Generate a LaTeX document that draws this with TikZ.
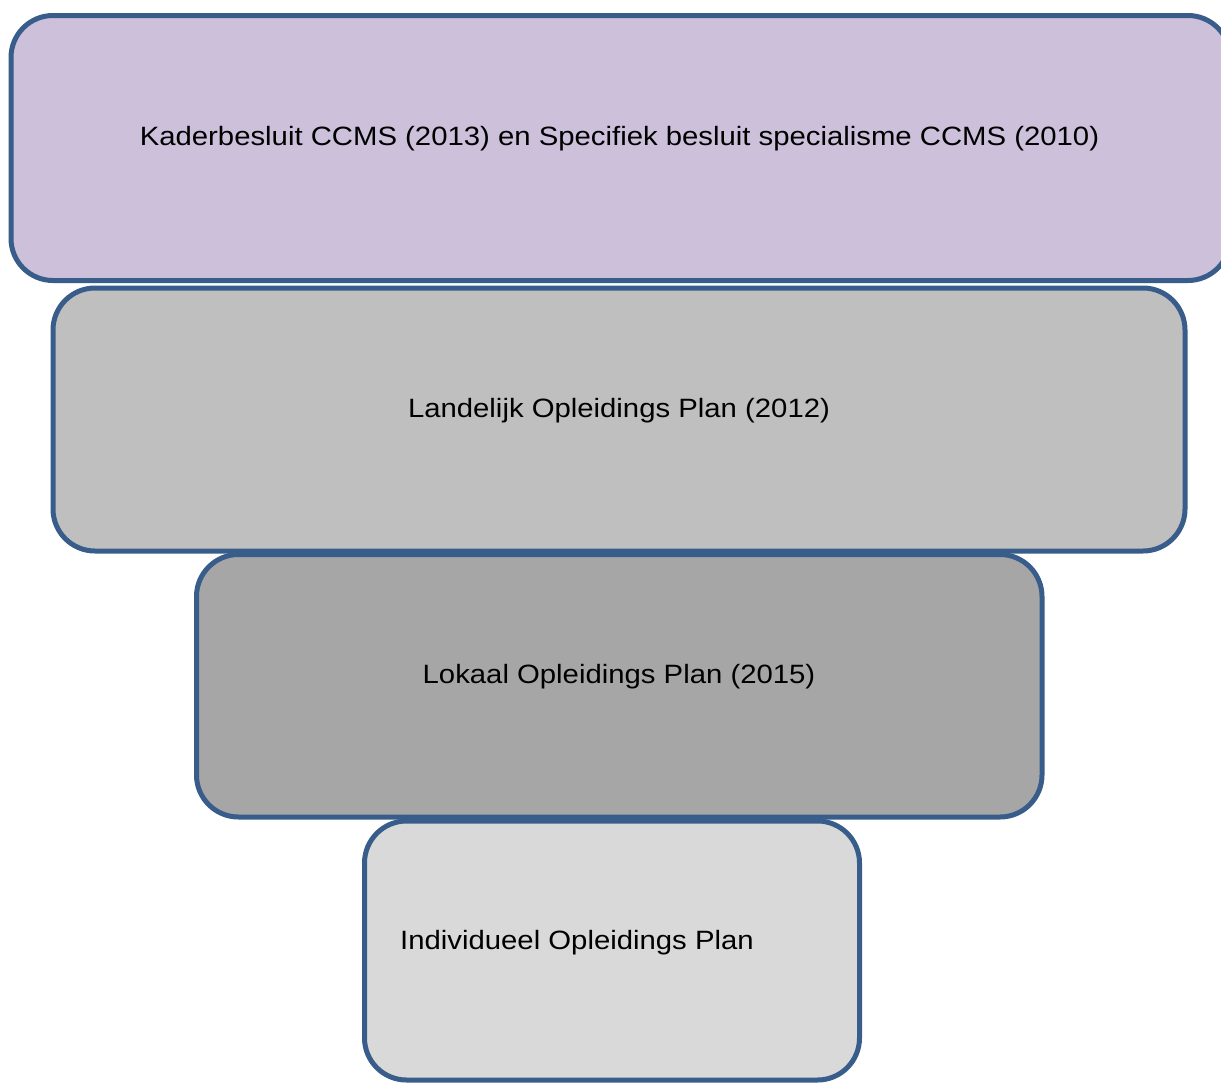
\documentclass[tikz,border=0pt]{standalone}
\usepackage{fontspec}
\setmainfont{Liberation Sans}
\newfontfamily\widesans[FakeStretch=1.106]{Liberation Sans}
\definecolor{edgeblue}{RGB}{56,93,138}
\definecolor{lavender}{RGB}{204,192,218}
\definecolor{greyA}{RGB}{191,191,191}
\definecolor{greyB}{RGB}{166,166,166}
\definecolor{greyC}{RGB}{217,217,217}
\begin{document}
\begin{tikzpicture}[x=1pt,y=-1pt,
  tier/.style={draw=edgeblue, line width=5pt, rounded corners=42pt,
    inner sep=0pt, outer sep=0pt},
  caption/.style={font=\widesans\fontsize{26.5}{31}\selectfont, inner sep=0pt, text=black}]
  \useasboundingbox (0,0) rectangle (1221,1082);
  % stacked plan levels, top to bottom
  \path[tier, fill=lavender] (11,15.5) rectangle (1230,280.5);
  \node[caption, anchor=base] (t1) at (619.5,145.7)
    {Kaderbesluit CCMS (2013) en Specifiek besluit specialisme CCMS (2010)};
  \path[tier, fill=greyA] (53,288) rectangle (1185,551);
  \node[caption, anchor=base] (t2) at (619,417.7)
    {Landelijk Opleidings Plan (2012)};
  \path[tier, fill=greyB] (196.5,554.5) rectangle (1042,817);
  \node[caption, anchor=base] (t3) at (619,683)
    {Lokaal Opleidings Plan (2015)};
  \path[tier, fill=greyC] (364.5,821) rectangle (859.5,1080);
  \node[caption, anchor=base west] (t4) at (400,949.3)
    {Individueel Opleidings Plan};
\end{tikzpicture}
\end{document}
